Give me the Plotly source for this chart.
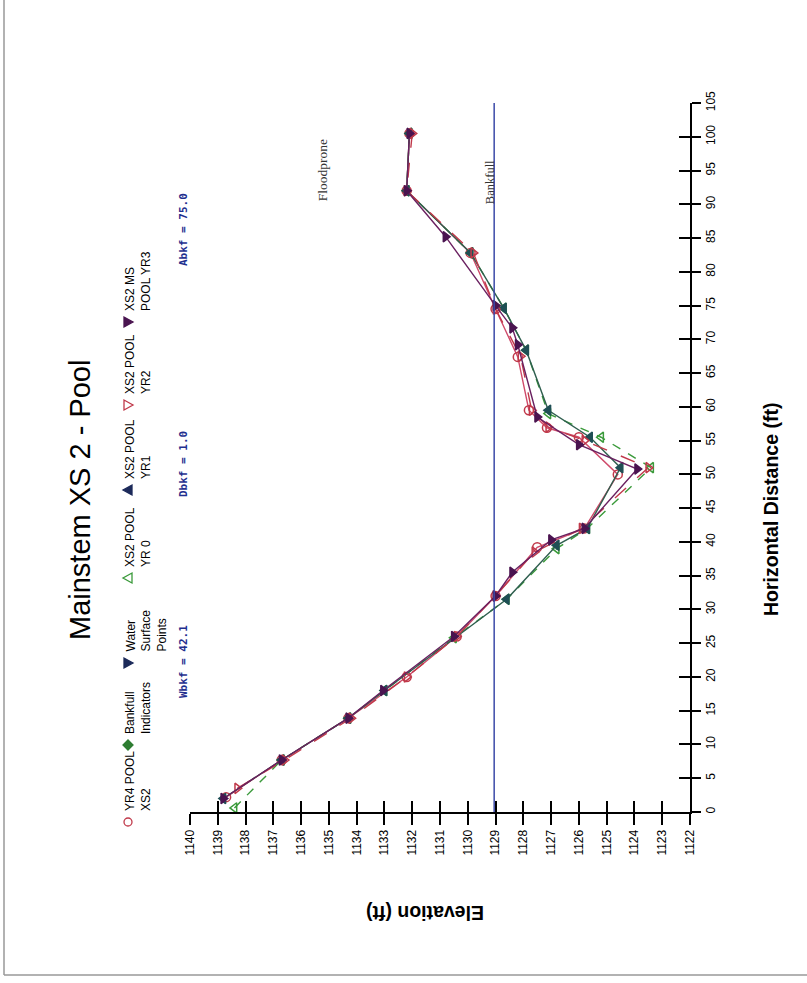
import plotly.graph_objects as go

# ---------------- data ----------------
elev_ticks = list(range(1122, 1141))
dist_ticks = list(range(0, 106, 5))

yr4_dist = [2.2, 7.7, 13.9, 20.0, 26.0, 32.0, 39.2, 42.0, 50.0, 55.5, 56.9, 59.5, 67.4, 74.5, 82.8, 92.0, 100.5]
yr4_elev = [1138.7, 1136.7, 1134.3, 1132.2, 1130.4, 1129.0, 1127.5, 1125.8, 1124.6, 1126.0, 1127.15, 1127.8, 1128.2, 1129.0, 1129.9, 1132.2, 1132.1]

yr0_dist = [0.6, 7.7, 13.9, 18.0, 25.8, 31.5, 39.0, 42.0, 51.0, 55.5, 59.0, 68.4, 74.6, 82.8, 92.0, 100.5]
yr0_elev = [1138.4, 1136.7, 1134.3, 1133.0, 1130.5, 1128.6, 1126.8, 1125.7, 1123.4, 1125.2, 1127.1, 1127.9, 1128.7, 1129.9, 1132.2, 1132.1]

yr1_dist = [2.0, 7.7, 13.9, 18.0, 31.5, 39.5, 42.0, 51.0, 55.5, 59.5, 68.4, 74.6, 82.8, 92.0, 100.5]
yr1_elev = [1138.8, 1136.7, 1134.3, 1133.0, 1128.6, 1126.8, 1125.7, 1124.5, 1125.6, 1127.1, 1127.9, 1128.7, 1129.9, 1132.2, 1132.1]

yr2_dist = [3.5, 7.7, 13.9, 20.0, 26.0, 32.0, 38.5, 42.0, 51.0, 55.0, 57.0, 59.5, 67.5, 74.5, 82.8, 92.0, 100.5]
yr2_elev = [1138.3, 1136.6, 1134.2, 1132.2, 1130.4, 1129.0, 1127.6, 1125.9, 1123.5, 1125.8, 1127.1, 1127.7, 1128.1, 1129.0, 1129.8, 1132.2, 1132.0]

yr3_dist = [2.0, 7.7, 13.9, 18.0, 26.0, 32.0, 35.5, 40.3, 42.0, 50.8, 54.4, 58.5, 69.2, 71.7, 75.0, 85.2, 92.0, 100.5]
yr3_elev = [1138.8, 1136.7, 1134.3, 1133.05, 1130.5, 1129.0, 1128.4, 1127.0, 1125.8, 1123.9, 1126.0, 1127.5, 1128.2, 1128.4, 1129.0, 1130.8, 1132.2, 1132.1]

bankfull_elev = 1129.05
floodprone_elev = 1135.2
stats = ["Wbkf = 42.1", "Dbkf = 1.0", "Abkf = 75.0"]

legend_labels = ["YR4 POOL<br>XS2", "Bankfull<br>Indicators", "Water<br>Surface<br>Points",
                 "XS2 POOL<br>YR 0", "XS2 POOL<br>YR1", "XS2 POOL<br>YR2", "XS2 MS<br>POOL YR3"]
legend_kinds = ["circle-open", "diamond", "down", "up-open", "up", "down-open", "down"]
legend_colors = ["#c0394a", "#2e7d32", "#1c2a5a", "#3a9a3a", "#1c2a5a", "#c0394a", "#4a1450"]

# ---------------- figure ----------------
W, H = 807, 983
L, R, T, B = 190, 690, 103, 812  # plot area in pixels


def px(x):
    return (x - L) / (R - L)


def py(y):
    return (B - y) / (B - T)


fig = go.Figure()

series = [
    (yr4_elev, yr4_dist, "#cf4a6a", "solid", "circle-open", "#c0394a"),
    (yr0_elev, yr0_dist, "#3a9a3a", "dash", "triangle-left-open", "#3a9a3a"),
    (yr1_elev, yr1_dist, "#2f5f4f", "solid", "triangle-left", "#1f4f55"),
    (yr2_elev, yr2_dist, "#c0394a", "longdash", "triangle-right-open", "#c0394a"),
    (yr3_elev, yr3_dist, "#6a2060", "solid", "triangle-right", "#4a1450"),
]
for ex, dy, lc, dash, sym, mc in series:
    fig.add_trace(go.Scatter(
        x=ex, y=dy, mode="lines+markers", xaxis="x", yaxis="y",
        line=dict(color=lc, width=1.4, dash=dash),
        marker=dict(symbol=sym, size=9, color=mc, line=dict(color=mc, width=1.5)),
        showlegend=False, hoverinfo="skip"))

axis_common = dict(showgrid=False, zeroline=False, linecolor="black", linewidth=2,
                   tickcolor="black", tickwidth=2)

fig.update_layout(
    width=W, height=H,
    margin=dict(l=L, r=W - R, t=T, b=H - B, autoexpand=False),
    paper_bgcolor="white", plot_bgcolor="white",
    font=dict(family="Liberation Sans, Arial", color="black"),
    xaxis=dict(range=[1140, 1122], tickvals=elev_ticks, tickangle=-90,
               ticks="outside", ticklen=11, showline=True, side="bottom",
               tickfont=dict(size=12, family="Liberation Sans Narrow, Liberation Sans"),
               **axis_common),
    xaxis2=dict(range=[1140, 1122], tickvals=elev_ticks, overlaying="x", anchor="y",
                side="bottom", ticks="inside", ticklen=11, showticklabels=False,
                showline=False, showgrid=False, zeroline=False, tickcolor="black", tickwidth=2),
    yaxis=dict(range=[0, 105], tickvals=dist_ticks, tickangle=-90, side="right",
               ticks="outside", ticklen=9, showline=True, anchor="x",
               tickfont=dict(size=12, family="Liberation Sans Narrow, Liberation Sans"),
               **axis_common),
    yaxis2=dict(range=[0, 105], tickvals=dist_ticks, overlaying="y", side="right",
                anchor="x", ticks="inside", ticklen=11, showticklabels=False,
                showline=False, showgrid=False, zeroline=False, tickcolor="black", tickwidth=2),
)
# dummy traces to activate overlay axes
fig.add_trace(go.Scatter(x=[None], y=[None], xaxis="x2", yaxis="y", showlegend=False, hoverinfo="skip"))
fig.add_trace(go.Scatter(x=[None], y=[None], xaxis="x", yaxis="y2", showlegend=False, hoverinfo="skip"))

# bankfull line
fig.add_shape(type="line", xref="x", yref="paper", x0=bankfull_elev, x1=bankfull_elev,
              y0=0, y1=1, line=dict(color="#3b4aa8", width=1.5))

ann = []
ann.append(dict(x=bankfull_elev, y=py(182), xref="x", yref="paper", text="Bankfull",
                textangle=-90, showarrow=False, xshift=-4, xanchor="center", yanchor="middle",
                font=dict(family="Liberation Serif", size=12.5, color="#333")))
ann.append(dict(x=floodprone_elev, y=py(170), xref="x", yref="paper", text="Floodprone",
                textangle=-90, showarrow=False, xanchor="center", yanchor="middle",
                font=dict(family="Liberation Serif", size=13.5, color="#333")))

# title
ann.append(dict(x=px(80), y=py(500), xref="paper", yref="paper", text="Mainstem XS 2 - Pool",
                textangle=-90, showarrow=False, xanchor="center", yanchor="middle",
                font=dict(size=29, color="black")))
# axis titles
ann.append(dict(x=px(771), y=py(510), xref="paper", yref="paper", text="<b>Horizontal Distance (ft)</b>",
                textangle=-90, showarrow=False, xanchor="center", yanchor="middle",
                font=dict(size=19.5, color="black")))
ann.append(dict(x=px(425), y=py(913), xref="paper", yref="paper", text="<b>Elevation (ft)</b>",
                textangle=180, showarrow=False, xanchor="center", yanchor="middle",
                font=dict(size=19.5, color="black")))

# legend (rotated): markers as shapes, text as rotated annotations
marker_y = [822, 745, 663, 578, 490, 405, 322]
paths = {
    "down": "M -4,-5 L 5,0 L -4,5 Z",      # rotated down-triangle -> points right
    "down-open": "M -4,-5 L 5,0 L -4,5 Z",
    "up": "M 4,-5 L -5,0 L 4,5 Z",         # rotated up-triangle -> points left
    "up-open": "M 4,-5 L -5,0 L 4,5 Z",
    "diamond": "M 0,-5 L 5,0 L 0,5 L -5,0 Z",
}
for kind, col, lab, my in zip(legend_kinds, legend_colors, legend_labels, marker_y):
    open_ = kind.endswith("open")
    common = dict(xref="paper", yref="paper", xsizemode="pixel", ysizemode="pixel",
                  xanchor=px(128), yanchor=py(my),
                  line=dict(color=col, width=1.3),
                  fillcolor="rgba(0,0,0,0)" if open_ else col)
    if kind == "circle-open":
        fig.add_shape(type="circle", x0=-4, x1=4, y0=-4, y1=4, **common)
    else:
        fig.add_shape(type="path", path=paths[kind], **common)
    ann.append(dict(x=px(121), y=py(my - 9), xref="paper", yref="paper", text=lab,
                    textangle=-90, showarrow=False, xanchor="left", yanchor="bottom",
                    align="left", font=dict(size=12, color="black")))

# stats
stat_y = [662, 464, 230]
for s, sy in zip(stats, stat_y):
    ann.append(dict(x=px(183), y=py(sy), xref="paper", yref="paper", text="<b>" + s + "</b>",
                    textangle=-90, showarrow=False, xanchor="center", yanchor="middle",
                    font=dict(family="DejaVu Sans Mono", size=11, color="#1f2f8f")))

fig.update_layout(annotations=ann)

# page frame
fig.add_shape(type="line", xref="paper", yref="paper", x0=px(4), x1=px(4), y0=py(0), y1=py(975),
              line=dict(color="#999", width=1.5))
fig.add_shape(type="line", xref="paper", yref="paper", x0=px(4), x1=px(807), y0=py(975), y1=py(975),
              line=dict(color="#999", width=1.5))

fig.write_html("out.html", config={"displayModeBar": False},
               post_script="document.body.style.margin='0px';")
